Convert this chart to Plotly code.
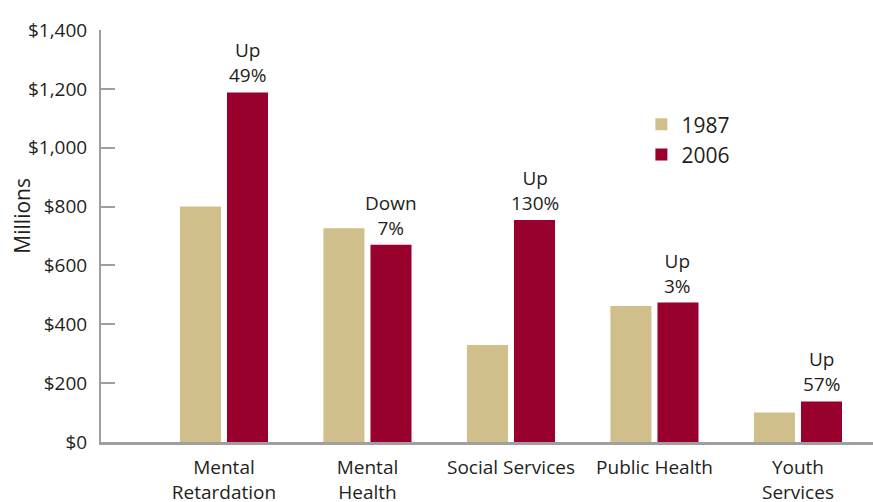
import plotly.graph_objects as go

# Spending by program area, millions of dollars
categories = ["Mental<br>Retardation", "Mental<br>Health", "Social Services",
              "Public Health", "Youth<br>Services"]
spend_1987 = [800, 726, 330, 462, 100]
spend_2006 = [1188, 670, 754, 474, 138]
change_labels = ["Up<br>49%", "Down<br>7%", "Up<br>130%", "Up<br>3%", "Up<br>57%"]
y_ticks = [0, 200, 400, 600, 800, 1000, 1200, 1400]
y_tick_text = ["${:,}".format(v) for v in y_ticks]

TAN = "#D0BE8B"
WINE = "#98002E"
AXIS = "#9f9f9f"
TEXT = "#231f20"
FONT = "Open Sans"

BAR_W = 0.286
OFF_A = -0.307
OFF_B = 0.021

idx = list(range(len(categories)))

fig = go.Figure()
fig.add_trace(go.Bar(x=idx, y=spend_1987, name="1987", marker_color=TAN,
                     width=BAR_W, offset=OFF_A, marker_line_width=0))
fig.add_trace(go.Bar(x=idx, y=spend_2006, name="2006", marker_color=WINE,
                     width=BAR_W, offset=OFF_B, marker_line_width=0))

# Percentage-change labels above the 2006 bars
for i, (v, lab) in enumerate(zip(spend_2006, change_labels)):
    fig.add_annotation(x=i + OFF_B + BAR_W / 2, y=v, text=lab, showarrow=False,
                       yanchor="bottom", yshift=2,
                       font=dict(family=FONT, size=19, color=TEXT))

# Rotated axis title
fig.add_annotation(xref="paper", yref="paper", x=-0.102, y=0.55,
                   text="Millions", textangle=-90, showarrow=False,
                   xanchor="center", yanchor="middle",
                   font=dict(family=FONT, size=21, color=TEXT))

fig.update_layout(
    width=873, height=502,
    margin=dict(l=101, r=0, t=30, b=60, autoexpand=False),
    paper_bgcolor="white", plot_bgcolor="white",
    font=dict(family=FONT, size=19, color=TEXT),
    barmode="group",
    showlegend=True,
    legend=dict(x=0.70, y=0.82, xanchor="left", yanchor="top",
                font=dict(family=FONT, size=21, color=TEXT),
                bgcolor="rgba(0,0,0,0)", itemwidth=30),
)

fig.update_xaxes(
    tickmode="array", tickvals=idx, ticktext=categories,
    range=[-0.857, 4.523], automargin=False,
    showline=True, linecolor=AXIS, linewidth=3,
    ticks="", showgrid=False, zeroline=False,
    ticklabelstandoff=6,
    tickfont=dict(family=FONT, size=19, color=TEXT),
)
fig.update_yaxes(
    range=[0, 1400], tickmode="array", tickvals=y_ticks, ticktext=y_tick_text,
    automargin=False,
    showline=True, linecolor=AXIS, linewidth=2,
    ticks="inside", ticklen=14, tickcolor=AXIS, tickwidth=1.5,
    showgrid=False, zeroline=False,
    ticklabelstandoff=8,
    tickfont=dict(family=FONT, size=19, color=TEXT),
)

fig.write_html("out.html")
